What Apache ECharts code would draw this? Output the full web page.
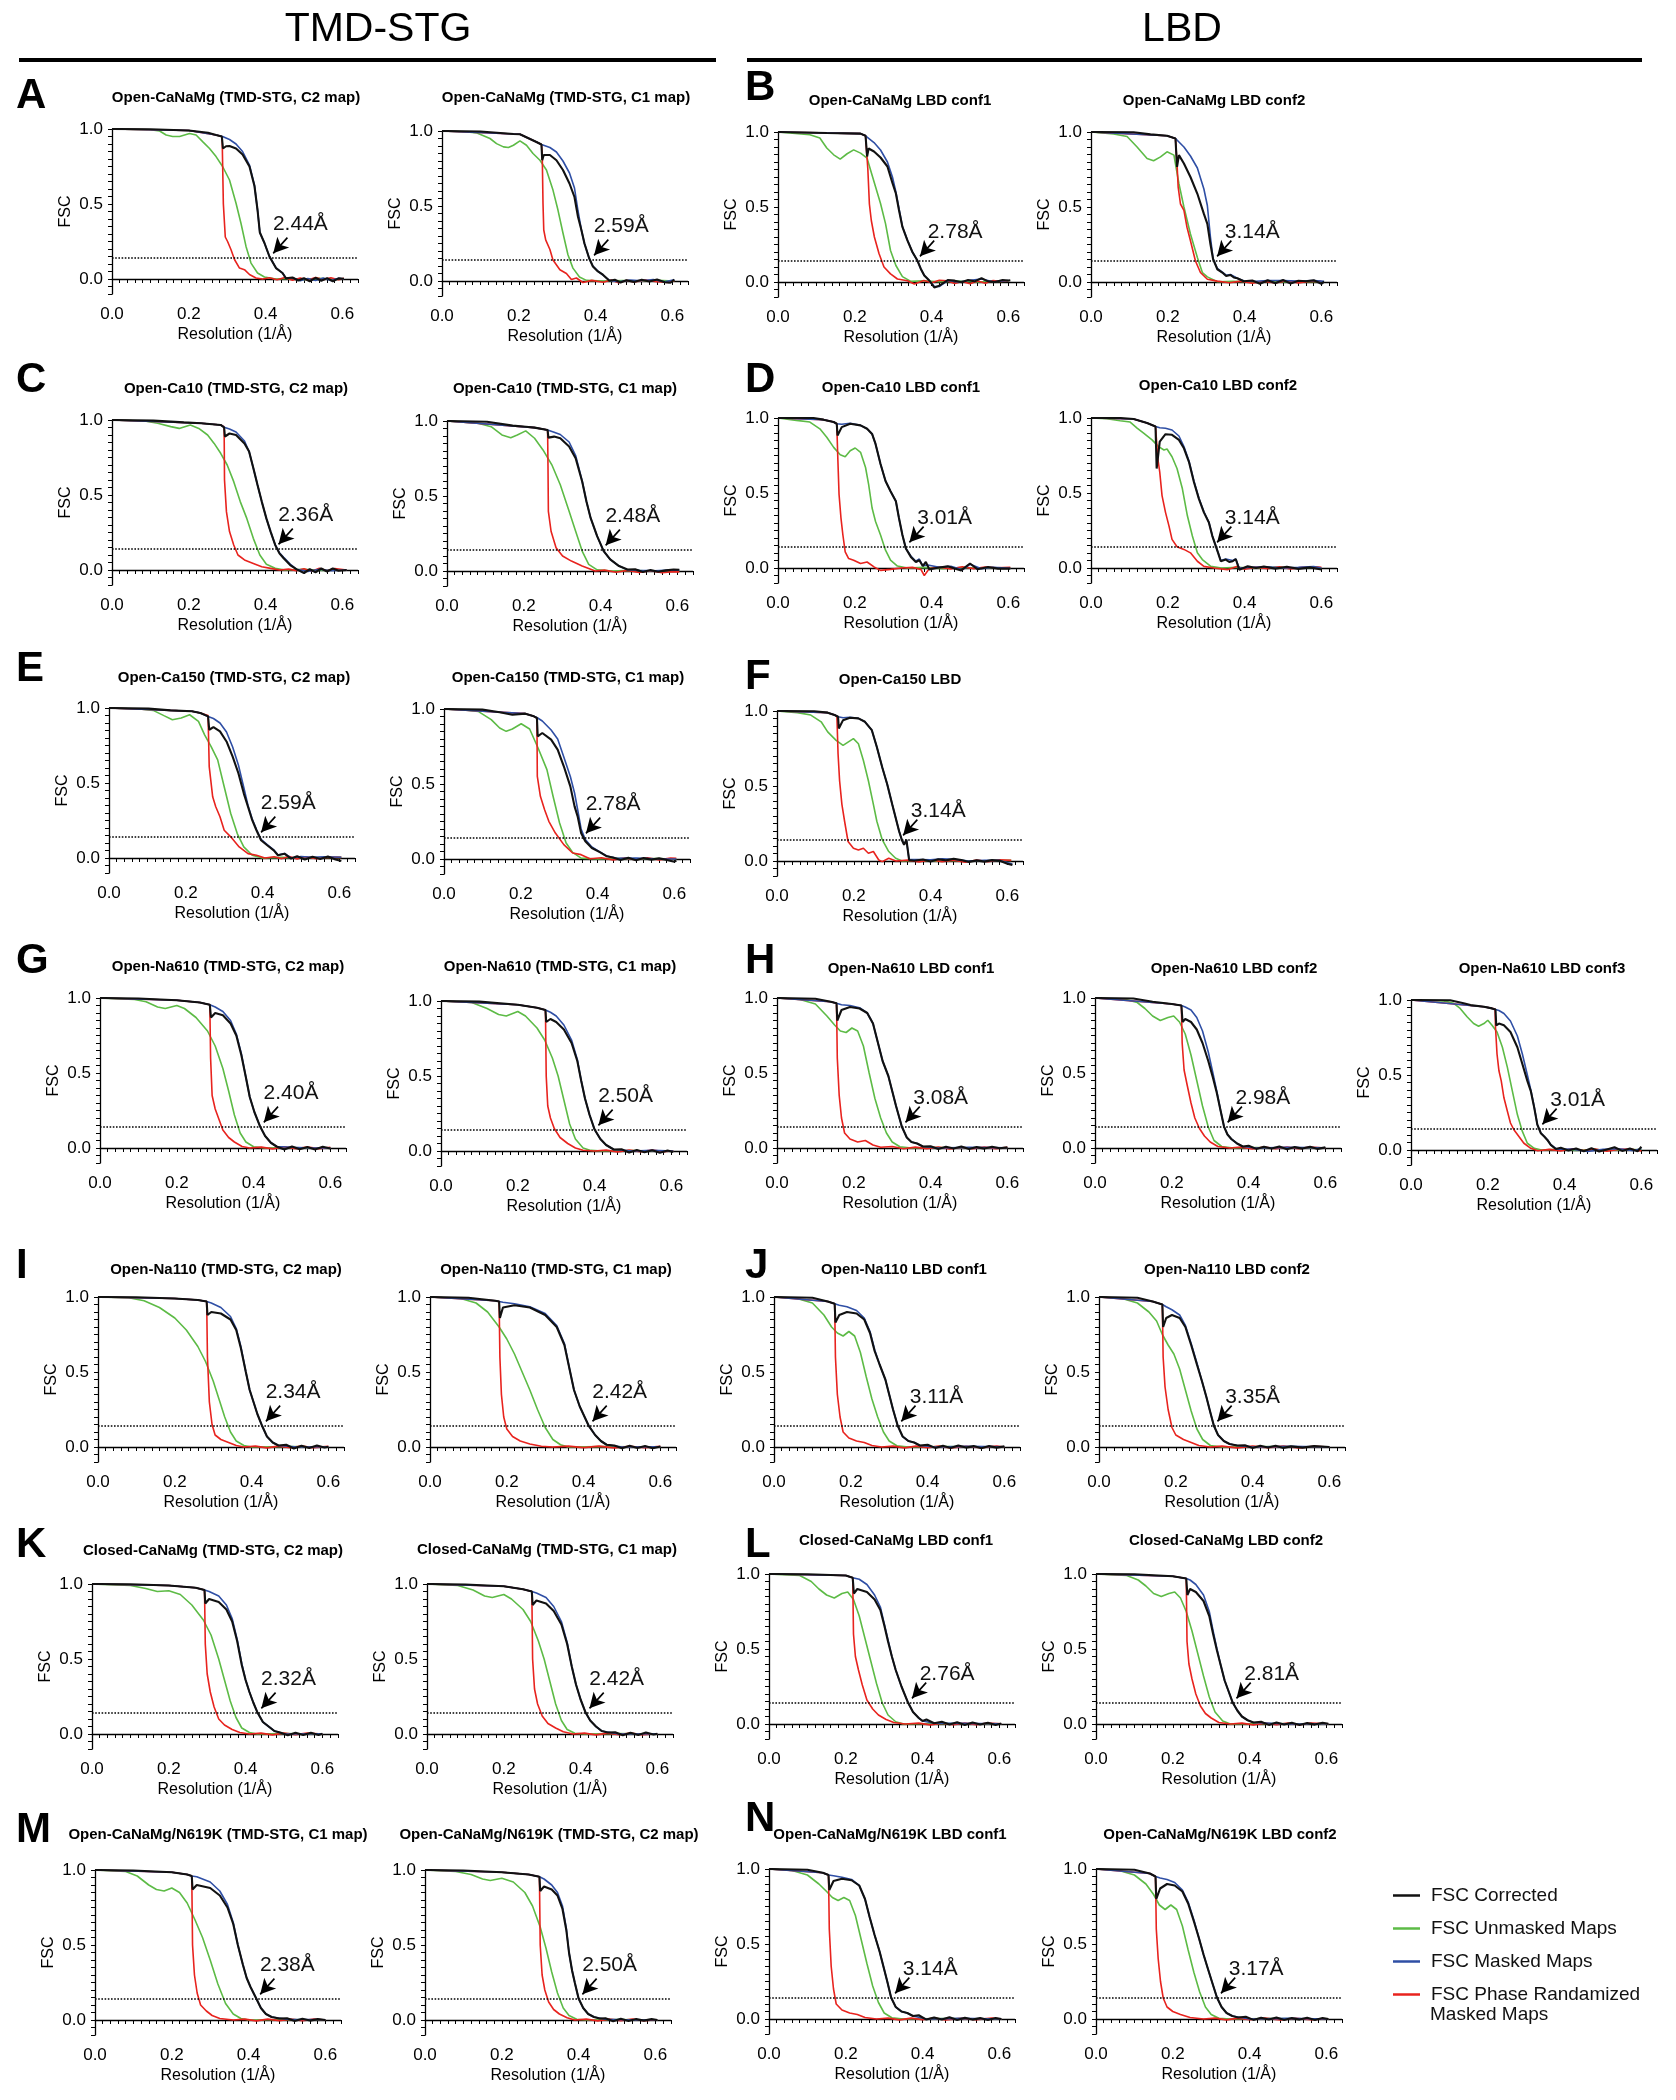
<!DOCTYPE html>
<html><head><meta charset="utf-8">
<script src="https://cdn.jsdelivr.net/npm/echarts@6/dist/echarts.min.js"></script>
<style>html,body{margin:0;padding:0;background:#fff}#c{width:1676px;height:2100px}</style>
</head><body><div id="c"></div>
<script>
// ---------------- DATA ----------------
const panelIds = ['A1','A2','B1','B2','C1','C2','D1','D2','E1','E2','F1','G1','G2','H1','H2','H3','I1','I2','J1','J2','K1','K2','L1','L2','M1','M2','N1','N2'];
const titles = {A1:'Open-CaNaMg (TMD-STG, C2 map)',A2:'Open-CaNaMg (TMD-STG, C1 map)',B1:'Open-CaNaMg LBD conf1',B2:'Open-CaNaMg LBD conf2',
C1:'Open-Ca10 (TMD-STG, C2 map)',C2:'Open-Ca10 (TMD-STG, C1 map)',D1:'Open-Ca10 LBD conf1',D2:'Open-Ca10 LBD conf2',
E1:'Open-Ca150 (TMD-STG, C2 map)',E2:'Open-Ca150 (TMD-STG, C1 map)',F1:'Open-Ca150 LBD',
G1:'Open-Na610 (TMD-STG, C2 map)',G2:'Open-Na610 (TMD-STG, C1 map)',H1:'Open-Na610 LBD conf1',H2:'Open-Na610 LBD conf2',H3:'Open-Na610 LBD conf3',
I1:'Open-Na110 (TMD-STG, C2 map)',I2:'Open-Na110 (TMD-STG, C1 map)',J1:'Open-Na110 LBD conf1',J2:'Open-Na110 LBD conf2',
K1:'Closed-CaNaMg (TMD-STG, C2 map)',K2:'Closed-CaNaMg (TMD-STG, C1 map)',L1:'Closed-CaNaMg LBD conf1',L2:'Closed-CaNaMg LBD conf2',
M1:'Open-CaNaMg/N619K (TMD-STG, C1 map)',M2:'Open-CaNaMg/N619K (TMD-STG, C2 map)',N1:'Open-CaNaMg/N619K LBD conf1',N2:'Open-CaNaMg/N619K LBD conf2'};
const resolutions = {A1:'2.44',A2:'2.59',B1:'2.78',B2:'3.14',C1:'2.36',C2:'2.48',D1:'3.01',D2:'3.14',E1:'2.59',E2:'2.78',F1:'3.14',
G1:'2.40',G2:'2.50',H1:'3.08',H2:'2.98',H3:'3.01',I1:'2.34',I2:'2.42',J1:'3.11',J2:'3.35',K1:'2.32',K2:'2.42',L1:'2.76',L2:'2.81',M1:'2.38',M2:'2.50',N1:'3.14',N2:'3.17'};
const sectionHeaders = ['TMD-STG','LBD'];
const panelLetters = ['A','B','C','D','E','F','G','H','I','J','K','L','M','N'];
const seriesNames = ['FSC Corrected','FSC Unmasked Maps','FSC Masked Maps','FSC Phase Randamized'];
const FSC_THRESHOLD = 0.143;

// k = FSC corrected (black), g = unmasked (green), b = masked (blue), r = phase randomized (red)
const A1k=[[0,1],[0.1,0.998],[0.2,0.99],[0.25,0.975],[0.271,0.96],[0.286,0.95],[0.289,0.87],[0.292,0.86],[0.297,0.885],[0.306,0.887],[0.323,0.87],[0.34,0.83],[0.358,0.75],[0.371,0.62],[0.379,0.46],[0.385,0.31],[0.397,0.24],[0.41,0.15],[0.427,0.073],[0.444,0.04],[0.453,0.005],[0.47,0.01],[0.485,-0.01],[0.5,0.005],[0.515,-0.015],[0.53,0.008],[0.545,-0.012],[0.56,0.006],[0.575,-0.015],[0.59,0.004],[0.604,0.002]];
const A1b=[[0,1],[0.2,0.99],[0.271,0.96],[0.288,0.95],[0.306,0.93],[0.323,0.9],[0.34,0.85],[0.358,0.76],[0.371,0.625],[0.379,0.46],[0.385,0.31],[0.397,0.24],[0.41,0.15],[0.427,0.075],[0.444,0.04],[0.453,0.005],[0.47,0.008],[0.49,-0.012],[0.51,0.004],[0.53,-0.01],[0.55,0.006],[0.57,-0.01],[0.59,0.005],[0.604,0]];
const A1r=[[0,1],[0.2,0.99],[0.271,0.96],[0.286,0.95],[0.287,0.92],[0.29,0.5],[0.295,0.28],[0.301,0.25],[0.31,0.195],[0.319,0.13],[0.332,0.073],[0.345,0.062],[0.358,0.03],[0.375,0.007],[0.392,0],[0.41,0.008],[0.43,-0.005],[0.45,0.01],[0.47,-0.008],[0.49,0.006],[0.51,-0.006],[0.53,0.01],[0.55,-0.004],[0.57,0.008],[0.59,-0.005],[0.604,0.004]];
const A1g=[[0,1],[0.1,0.995],[0.124,0.987],[0.141,0.96],[0.158,0.95],[0.176,0.95],[0.202,0.97],[0.219,0.96],[0.236,0.916],[0.254,0.87],[0.271,0.816],[0.288,0.75],[0.306,0.66],[0.323,0.505],[0.336,0.37],[0.349,0.217],[0.362,0.106],[0.379,0.04],[0.397,0.013],[0.427,0],[0.46,0.003],[0.5,-0.004],[0.54,0.004],[0.58,-0.003],[0.604,0]];

const A2k=[[0,1],[0.1,0.997],[0.186,0.98],[0.203,0.978],[0.246,0.927],[0.259,0.91],[0.261,0.805],[0.265,0.84],[0.268,0.85],[0.281,0.84],[0.298,0.805],[0.315,0.74],[0.332,0.65],[0.345,0.56],[0.354,0.43],[0.363,0.34],[0.371,0.25],[0.383,0.153],[0.393,0.097],[0.406,0.064],[0.419,0.042],[0.436,0.002],[0.45,0.008],[0.465,-0.01],[0.48,0.005],[0.5,-0.006],[0.52,0.008],[0.54,-0.004],[0.56,0.01],[0.58,-0.008],[0.595,-0.012],[0.605,0.01]];
const A2b=[[0,1],[0.203,0.978],[0.246,0.927],[0.259,0.91],[0.281,0.89],[0.298,0.86],[0.315,0.8],[0.332,0.72],[0.345,0.62],[0.354,0.47],[0.363,0.34],[0.371,0.25],[0.383,0.153],[0.393,0.1],[0.406,0.066],[0.419,0.04],[0.436,0.004],[0.46,-0.005],[0.49,0.006],[0.52,0.002],[0.55,0.01],[0.58,-0.006],[0.605,0.008]];
const A2r=[[0,1],[0.203,0.978],[0.246,0.927],[0.259,0.91],[0.261,0.85],[0.263,0.518],[0.265,0.34],[0.27,0.274],[0.274,0.274],[0.281,0.21],[0.289,0.14],[0.307,0.075],[0.324,0.05],[0.337,0.01],[0.35,0.02],[0.367,-0.01],[0.39,0.004],[0.42,-0.008],[0.44,0.006],[0.46,-0.012],[0.48,0.004],[0.5,-0.006],[0.53,0.006],[0.56,-0.004],[0.59,-0.01],[0.605,0.004]];
const A2g=[[0,1],[0.06,0.995],[0.091,0.987],[0.125,0.95],[0.142,0.916],[0.16,0.894],[0.173,0.89],[0.186,0.905],[0.203,0.934],[0.22,0.905],[0.237,0.85],[0.255,0.805],[0.272,0.74],[0.289,0.606],[0.302,0.473],[0.315,0.32],[0.328,0.175],[0.341,0.086],[0.358,0.027],[0.376,0.004],[0.42,0],[0.47,0.003],[0.52,-0.002],[0.56,0.004],[0.605,0]];

const B1k=[[0,1],[0.127,0.993],[0.215,0.989],[0.228,0.975],[0.232,0.837],[0.236,0.89],[0.25,0.87],[0.267,0.83],[0.285,0.77],[0.298,0.66],[0.307,0.59],[0.315,0.48],[0.324,0.367],[0.337,0.277],[0.35,0.2],[0.363,0.143],[0.372,0.087],[0.381,0.043],[0.394,0.01],[0.407,-0.036],[0.42,-0.025],[0.442,0.013],[0.46,0.009],[0.478,-0.002],[0.495,0.013],[0.512,0.004],[0.53,0.025],[0.547,0.004],[0.565,0],[0.585,0.013],[0.6,0.01],[0.605,0.012]];
const B1b=[[0,1],[0.215,0.989],[0.228,0.975],[0.25,0.93],[0.267,0.88],[0.285,0.8],[0.298,0.7],[0.307,0.6],[0.315,0.49],[0.324,0.37],[0.337,0.28],[0.35,0.2],[0.363,0.143],[0.372,0.087],[0.381,0.043],[0.394,0.01],[0.407,-0.03],[0.42,-0.03],[0.442,0.01],[0.47,0],[0.5,0.012],[0.53,0.02],[0.56,0.002],[0.6,0.01]];
const B1r=[[0,1],[0.215,0.989],[0.228,0.975],[0.234,0.75],[0.238,0.52],[0.243,0.41],[0.251,0.3],[0.263,0.19],[0.276,0.1],[0.293,0.054],[0.311,0.02],[0.337,0.008],[0.355,-0.013],[0.38,0.01],[0.4,-0.005],[0.42,0.012],[0.44,0.008],[0.46,-0.01],[0.48,0.004],[0.5,-0.012],[0.52,0.006],[0.54,-0.008],[0.56,0.01],[0.58,0.004],[0.6,0.008]];
const B1g=[[0,1],[0.083,0.982],[0.109,0.96],[0.127,0.893],[0.145,0.848],[0.162,0.819],[0.18,0.855],[0.197,0.881],[0.215,0.859],[0.232,0.826],[0.241,0.747],[0.254,0.635],[0.267,0.523],[0.28,0.389],[0.293,0.21],[0.307,0.11],[0.324,0.036],[0.346,0.004],[0.38,0.008],[0.42,0.002],[0.47,0.006],[0.52,0],[0.56,0.004],[0.6,0.006]];

const B2k=[[0,1],[0.111,0.998],[0.155,0.984],[0.198,0.975],[0.22,0.957],[0.224,0.767],[0.229,0.846],[0.242,0.79],[0.259,0.7],[0.277,0.588],[0.294,0.454],[0.303,0.387],[0.311,0.253],[0.318,0.152],[0.329,0.085],[0.342,0.063],[0.352,0.04],[0.363,0.047],[0.372,0.03],[0.381,0.025],[0.398,0.005],[0.42,0.01],[0.44,-0.012],[0.46,0.012],[0.48,-0.008],[0.5,0.013],[0.52,-0.01],[0.54,0.008],[0.56,0.005],[0.58,0.012],[0.6,-0.012],[0.607,0.002]];
const B2b=[[0,1],[0.198,0.975],[0.22,0.957],[0.242,0.9],[0.259,0.84],[0.277,0.76],[0.294,0.62],[0.303,0.51],[0.311,0.3],[0.318,0.155],[0.329,0.09],[0.342,0.065],[0.352,0.045],[0.363,0.05],[0.381,0.025],[0.4,0.005],[0.43,0.005],[0.46,0.01],[0.5,0.01],[0.54,0.006],[0.58,0.01],[0.607,0.004]];
const B2r=[[0,1],[0.198,0.975],[0.22,0.957],[0.224,0.79],[0.227,0.633],[0.233,0.52],[0.242,0.477],[0.25,0.365],[0.259,0.275],[0.272,0.14],[0.285,0.063],[0.303,0.018],[0.329,0.006],[0.36,-0.005],[0.39,0.006],[0.42,-0.008],[0.45,0.005],[0.48,-0.006],[0.51,0.008],[0.54,-0.006],[0.57,0.006],[0.6,0.004]];
const B2g=[[0,1],[0.059,0.987],[0.094,0.97],[0.12,0.9],[0.146,0.823],[0.163,0.808],[0.181,0.834],[0.198,0.868],[0.216,0.846],[0.229,0.655],[0.242,0.5],[0.259,0.32],[0.277,0.163],[0.29,0.063],[0.303,0.034],[0.329,0.002],[0.37,0.005],[0.42,0],[0.47,0.005],[0.52,-0.002],[0.56,0.004],[0.6,0]];

const C1k=[[0,1],[0.108,0.996],[0.187,0.984],[0.232,0.978],[0.283,0.967],[0.292,0.95],[0.294,0.89],[0.306,0.91],[0.323,0.9],[0.345,0.844],[0.357,0.79],[0.368,0.68],[0.379,0.567],[0.39,0.456],[0.402,0.344],[0.413,0.256],[0.425,0.167],[0.436,0.111],[0.447,0.078],[0.464,0.033],[0.481,0.004],[0.5,-0.02],[0.515,0.005],[0.53,-0.015],[0.545,0.01],[0.56,-0.01],[0.575,0.01],[0.59,-0.005],[0.611,0]];
const C1b=[[0,1],[0.232,0.978],[0.283,0.967],[0.294,0.95],[0.306,0.94],[0.323,0.92],[0.345,0.86],[0.357,0.79],[0.368,0.68],[0.379,0.567],[0.39,0.456],[0.402,0.344],[0.413,0.256],[0.425,0.167],[0.436,0.115],[0.447,0.085],[0.464,0.04],[0.481,0.004],[0.51,-0.01],[0.54,0.005],[0.57,-0.005],[0.611,0]];
const C1r=[[0,1],[0.232,0.978],[0.283,0.967],[0.292,0.955],[0.293,0.6],[0.298,0.389],[0.306,0.256],[0.317,0.167],[0.328,0.1],[0.345,0.067],[0.368,0.044],[0.39,0.022],[0.413,0.011],[0.436,0],[0.46,0.006],[0.48,-0.004],[0.5,0.008],[0.52,-0.008],[0.54,0.012],[0.56,-0.005],[0.58,0.01],[0.611,0]];
const C1g=[[0,1],[0.085,0.993],[0.119,0.978],[0.153,0.956],[0.175,0.944],[0.204,0.967],[0.226,0.944],[0.249,0.9],[0.266,0.844],[0.283,0.778],[0.3,0.7],[0.317,0.589],[0.334,0.456],[0.351,0.344],[0.368,0.211],[0.385,0.1],[0.402,0.038],[0.425,0.011],[0.45,0],[0.5,0.004],[0.55,-0.003],[0.611,0.002]];

const C2k=[[0,1],[0.104,0.995],[0.171,0.969],[0.205,0.962],[0.228,0.956],[0.262,0.94],[0.264,0.889],[0.279,0.896],[0.295,0.885],[0.318,0.83],[0.335,0.752],[0.352,0.597],[0.363,0.465],[0.374,0.354],[0.391,0.232],[0.408,0.133],[0.425,0.077],[0.448,0.033],[0.47,0.01],[0.49,0.012],[0.51,-0.006],[0.53,0.006],[0.55,-0.005],[0.57,0.004],[0.59,0.01],[0.605,0.008]];
const C2b=[[0,1],[0.228,0.956],[0.262,0.94],[0.279,0.925],[0.295,0.91],[0.318,0.86],[0.335,0.77],[0.352,0.6],[0.363,0.465],[0.374,0.354],[0.391,0.232],[0.408,0.133],[0.425,0.077],[0.448,0.033],[0.47,0.008],[0.5,0.004],[0.54,0.002],[0.58,0.006],[0.605,0.006]];
const C2r=[[0,1],[0.228,0.956],[0.262,0.94],[0.263,0.7],[0.264,0.398],[0.271,0.265],[0.284,0.155],[0.301,0.1],[0.324,0.066],[0.352,0.033],[0.386,0],[0.41,0.006],[0.44,-0.008],[0.47,0.004],[0.5,-0.01],[0.53,0.002],[0.56,-0.012],[0.59,-0.004],[0.605,-0.006]];
const C2g=[[0,1],[0.081,0.985],[0.115,0.962],[0.143,0.907],[0.166,0.889],[0.183,0.907],[0.205,0.934],[0.228,0.885],[0.25,0.807],[0.273,0.708],[0.295,0.575],[0.318,0.398],[0.335,0.265],[0.352,0.133],[0.369,0.044],[0.391,0.008],[0.43,0],[0.48,0.004],[0.53,0],[0.58,0.003],[0.605,0]];

const D1k=[[0,1],[0.092,1],[0.118,0.989],[0.145,0.973],[0.153,0.962],[0.155,0.883],[0.166,0.939],[0.188,0.962],[0.215,0.951],[0.232,0.928],[0.245,0.894],[0.254,0.827],[0.267,0.693],[0.28,0.58],[0.293,0.512],[0.307,0.445],[0.315,0.333],[0.324,0.22],[0.333,0.13],[0.346,0.074],[0.359,0.04],[0.368,0.052],[0.377,0.013],[0.385,0.04],[0.394,-0.009],[0.416,0.002],[0.442,0.011],[0.46,-0.004],[0.477,-0.016],[0.5,0.03],[0.52,-0.009],[0.547,0.007],[0.573,-0.004],[0.605,-0.004]];
const D1b=[[0,1],[0.118,0.989],[0.145,0.973],[0.153,0.962],[0.166,0.958],[0.188,0.965],[0.215,0.951],[0.232,0.928],[0.245,0.894],[0.254,0.827],[0.267,0.693],[0.28,0.58],[0.293,0.512],[0.307,0.445],[0.315,0.333],[0.324,0.22],[0.333,0.13],[0.346,0.08],[0.359,0.045],[0.368,0.06],[0.377,0.015],[0.39,0.02],[0.42,0.005],[0.45,0.012],[0.48,-0.012],[0.5,0.025],[0.53,-0.005],[0.56,0.005],[0.605,-0.002]];
const D1r=[[0,1],[0.118,0.989],[0.145,0.973],[0.153,0.962],[0.156,0.715],[0.159,0.49],[0.164,0.333],[0.169,0.22],[0.175,0.108],[0.184,0.063],[0.197,0.052],[0.215,0.03],[0.232,0.04],[0.25,0.007],[0.267,-0.016],[0.293,-0.009],[0.32,0],[0.35,0.004],[0.372,-0.009],[0.381,-0.05],[0.394,-0.004],[0.42,0.006],[0.45,-0.006],[0.48,0.008],[0.51,-0.004],[0.54,0.006],[0.57,0.002],[0.605,0.004]];
const D1g=[[0,1],[0.048,0.984],[0.083,0.973],[0.109,0.928],[0.127,0.872],[0.145,0.804],[0.162,0.755],[0.175,0.742],[0.188,0.782],[0.201,0.8],[0.215,0.771],[0.228,0.67],[0.236,0.557],[0.245,0.4],[0.254,0.31],[0.267,0.22],[0.28,0.119],[0.293,0.052],[0.311,0.013],[0.337,0],[0.38,0.004],[0.43,-0.004],[0.48,0.003],[0.53,-0.002],[0.58,0.002],[0.605,0]];

const D2k=[[0,1],[0.076,1],[0.111,0.993],[0.146,0.966],[0.168,0.944],[0.171,0.663],[0.179,0.843],[0.194,0.892],[0.211,0.888],[0.229,0.854],[0.242,0.798],[0.255,0.708],[0.268,0.573],[0.281,0.461],[0.294,0.371],[0.307,0.303],[0.316,0.213],[0.325,0.146],[0.331,0.101],[0.338,0.045],[0.351,0.056],[0.36,0.04],[0.369,0.045],[0.377,0.06],[0.386,-0.011],[0.408,0.011],[0.43,0],[0.45,0.01],[0.48,-0.004],[0.51,0.008],[0.54,-0.006],[0.57,0.004],[0.6,-0.01]];
const D2b=[[0,1],[0.111,0.993],[0.146,0.966],[0.168,0.944],[0.179,0.935],[0.194,0.932],[0.211,0.92],[0.229,0.88],[0.242,0.81],[0.255,0.715],[0.268,0.58],[0.281,0.465],[0.294,0.375],[0.307,0.305],[0.316,0.215],[0.325,0.146],[0.331,0.101],[0.338,0.05],[0.351,0.06],[0.369,0.05],[0.377,0.06],[0.386,0],[0.42,0.005],[0.46,0.008],[0.5,0],[0.54,0.004],[0.58,0.01],[0.6,0]];
const D2r=[[0,1],[0.111,0.993],[0.146,0.966],[0.168,0.944],[0.174,0.73],[0.179,0.64],[0.185,0.483],[0.194,0.371],[0.203,0.281],[0.211,0.191],[0.224,0.142],[0.242,0.124],[0.259,0.101],[0.277,0.045],[0.294,0.011],[0.32,0],[0.355,-0.011],[0.38,0.01],[0.4,-0.008],[0.43,0.006],[0.46,-0.004],[0.49,0.008],[0.52,-0.006],[0.55,0.004],[0.58,0.008],[0.6,0.004]];
const D2g=[[0,1],[0.041,0.996],[0.076,0.982],[0.102,0.973],[0.12,0.933],[0.137,0.899],[0.159,0.854],[0.176,0.809],[0.19,0.787],[0.198,0.793],[0.211,0.742],[0.224,0.663],[0.238,0.528],[0.251,0.348],[0.264,0.213],[0.277,0.101],[0.29,0.056],[0.312,0.011],[0.34,0],[0.38,0.005],[0.43,-0.002],[0.48,0.004],[0.53,0],[0.58,0.004],[0.6,0.002]];

const E1k=[[0,1],[0.103,0.996],[0.16,0.984],[0.216,0.978],[0.238,0.967],[0.258,0.944],[0.261,0.855],[0.272,0.873],[0.289,0.844],[0.306,0.777],[0.322,0.676],[0.337,0.565],[0.351,0.431],[0.362,0.342],[0.373,0.252],[0.384,0.185],[0.396,0.118],[0.412,0.085],[0.429,0.051],[0.44,0.018],[0.457,0.029],[0.474,-0.004],[0.49,0.012],[0.51,-0.01],[0.53,0.008],[0.55,-0.006],[0.57,0.01],[0.59,-0.01],[0.605,-0.02]];
const E1b=[[0,1],[0.216,0.978],[0.238,0.967],[0.258,0.944],[0.272,0.93],[0.289,0.9],[0.306,0.84],[0.322,0.74],[0.337,0.62],[0.351,0.47],[0.362,0.35],[0.373,0.26],[0.384,0.19],[0.396,0.125],[0.412,0.09],[0.429,0.055],[0.44,0.02],[0.457,0.03],[0.474,0],[0.5,0.01],[0.53,0.005],[0.56,0.008],[0.605,0.005]];
const E1r=[[0,1],[0.216,0.978],[0.238,0.967],[0.258,0.95],[0.261,0.609],[0.27,0.408],[0.278,0.342],[0.289,0.275],[0.3,0.185],[0.317,0.141],[0.339,0.074],[0.362,0.029],[0.384,0.018],[0.406,0],[0.43,0.008],[0.45,-0.004],[0.47,0.01],[0.49,-0.006],[0.51,0.008],[0.54,-0.004],[0.57,0.006],[0.605,0.004]];
const E1g=[[0,1],[0.081,0.993],[0.115,0.984],[0.143,0.949],[0.165,0.922],[0.188,0.933],[0.21,0.955],[0.233,0.911],[0.249,0.821],[0.266,0.743],[0.283,0.654],[0.3,0.475],[0.317,0.297],[0.334,0.163],[0.351,0.074],[0.373,0.018],[0.4,0],[0.45,0.004],[0.5,-0.002],[0.55,0.003],[0.605,0.004]];

const E2k=[[0,1],[0.1,0.996],[0.145,0.978],[0.178,0.962],[0.212,0.969],[0.234,0.951],[0.242,0.94],[0.244,0.818],[0.256,0.84],[0.279,0.796],[0.296,0.729],[0.312,0.618],[0.329,0.484],[0.34,0.351],[0.348,0.284],[0.357,0.173],[0.368,0.118],[0.385,0.073],[0.407,0.044],[0.424,0.018],[0.44,0.01],[0.46,-0.006],[0.48,0.008],[0.5,-0.008],[0.52,0.006],[0.54,-0.004],[0.56,0.004],[0.58,-0.006],[0.6,-0.018],[0.605,-0.01]];
const E2b=[[0,1],[0.212,0.969],[0.234,0.951],[0.244,0.94],[0.256,0.92],[0.279,0.86],[0.296,0.8],[0.312,0.68],[0.329,0.55],[0.34,0.44],[0.348,0.33],[0.357,0.2],[0.368,0.13],[0.385,0.08],[0.407,0.045],[0.424,0.02],[0.45,0.004],[0.5,0.006],[0.55,0.002],[0.605,0]];
const E2r=[[0,1],[0.212,0.969],[0.234,0.951],[0.242,0.94],[0.243,0.551],[0.251,0.418],[0.262,0.329],[0.273,0.251],[0.29,0.173],[0.312,0.096],[0.335,0.04],[0.357,0.029],[0.38,0.002],[0.41,0.008],[0.44,-0.006],[0.47,0.006],[0.5,-0.004],[0.53,0.008],[0.56,-0.006],[0.59,0.006],[0.605,0.004]];
const E2g=[[0,1],[0.06,0.992],[0.089,0.984],[0.123,0.929],[0.145,0.873],[0.162,0.851],[0.178,0.867],[0.201,0.902],[0.223,0.867],[0.245,0.74],[0.268,0.596],[0.284,0.418],[0.301,0.24],[0.318,0.107],[0.335,0.044],[0.357,0.006],[0.4,0],[0.45,0.004],[0.5,-0.002],[0.55,0.003],[0.605,0]];

const F1k=[[0,1],[0.097,0.998],[0.132,0.989],[0.15,0.973],[0.159,0.962],[0.161,0.883],[0.172,0.939],[0.19,0.955],[0.212,0.951],[0.229,0.928],[0.247,0.872],[0.26,0.76],[0.274,0.625],[0.287,0.512],[0.3,0.378],[0.309,0.288],[0.318,0.198],[0.325,0.142],[0.331,0.108],[0.337,0.142],[0.344,0.007],[0.357,0.002],[0.38,0.01],[0.4,-0.004],[0.42,0.012],[0.44,0.004],[0.46,0.015],[0.48,0.006],[0.5,-0.006],[0.52,0.004],[0.54,-0.004],[0.56,0.006],[0.58,0.002],[0.6,-0.018],[0.613,-0.027]];
const F1b=[[0,1],[0.132,0.989],[0.15,0.973],[0.159,0.962],[0.172,0.955],[0.19,0.958],[0.212,0.951],[0.229,0.928],[0.247,0.872],[0.26,0.76],[0.274,0.625],[0.287,0.512],[0.3,0.378],[0.309,0.288],[0.318,0.198],[0.325,0.142],[0.331,0.11],[0.337,0.14],[0.344,0.01],[0.37,0.01],[0.4,0.008],[0.43,0.015],[0.46,0.012],[0.5,0],[0.54,0.004],[0.58,0.004],[0.613,-0.02]];
const F1r=[[0,1],[0.132,0.989],[0.15,0.973],[0.156,0.965],[0.159,0.715],[0.163,0.535],[0.169,0.378],[0.176,0.265],[0.185,0.13],[0.199,0.085],[0.212,0.074],[0.225,0.085],[0.238,0.052],[0.251,0.063],[0.265,0.007],[0.274,-0.004],[0.291,0.018],[0.31,0],[0.34,0.006],[0.37,-0.006],[0.4,0.008],[0.43,-0.004],[0.46,0.006],[0.49,-0.008],[0.52,0.006],[0.55,-0.004],[0.58,0.008],[0.61,0.004]];
const F1g=[[0,1],[0.053,0.989],[0.088,0.973],[0.115,0.928],[0.132,0.861],[0.154,0.804],[0.172,0.771],[0.185,0.793],[0.199,0.816],[0.212,0.782],[0.225,0.67],[0.238,0.535],[0.251,0.378],[0.26,0.265],[0.274,0.142],[0.291,0.063],[0.309,0.018],[0.326,0],[0.37,0.004],[0.42,-0.002],[0.47,0.003],[0.52,0],[0.57,0.003],[0.61,0.004]];

const G1k=[[0,1],[0.1,0.997],[0.2,0.985],[0.26,0.97],[0.286,0.955],[0.289,0.87],[0.3,0.9],[0.32,0.885],[0.34,0.83],[0.355,0.75],[0.368,0.62],[0.38,0.47],[0.39,0.34],[0.402,0.24],[0.417,0.143],[0.43,0.08],[0.445,0.035],[0.46,0.01],[0.48,-0.01],[0.5,0.01],[0.52,-0.008],[0.54,0.006],[0.56,-0.01],[0.58,0.008],[0.6,-0.004]];
const G1b=[[0,1],[0.2,0.985],[0.26,0.97],[0.286,0.955],[0.3,0.94],[0.32,0.91],[0.34,0.85],[0.355,0.76],[0.368,0.63],[0.38,0.47],[0.39,0.34],[0.402,0.24],[0.417,0.143],[0.43,0.08],[0.445,0.035],[0.46,0.01],[0.5,0.005],[0.55,0],[0.6,0]];
const G1r=[[0,1],[0.2,0.985],[0.26,0.97],[0.286,0.955],[0.288,0.6],[0.292,0.35],[0.3,0.26],[0.31,0.19],[0.32,0.12],[0.335,0.07],[0.35,0.04],[0.37,0.01],[0.39,0],[0.42,0.006],[0.45,-0.006],[0.48,0.008],[0.51,-0.004],[0.54,0.006],[0.57,-0.004],[0.6,0.004]];
const G1g=[[0,1],[0.09,0.99],[0.12,0.975],[0.15,0.94],[0.17,0.93],[0.2,0.95],[0.22,0.93],[0.25,0.87],[0.28,0.78],[0.3,0.68],[0.32,0.53],[0.335,0.38],[0.35,0.22],[0.365,0.1],[0.38,0.04],[0.4,0.008],[0.43,0],[0.5,0.003],[0.55,-0.002],[0.6,0.002]];

const G2k=[[0,1],[0.1,0.996],[0.2,0.975],[0.25,0.955],[0.272,0.94],[0.274,0.86],[0.285,0.88],[0.3,0.86],[0.32,0.81],[0.34,0.72],[0.355,0.6],[0.365,0.47],[0.375,0.35],[0.387,0.24],[0.4,0.143],[0.415,0.08],[0.43,0.04],[0.45,0.01],[0.47,0.012],[0.49,-0.01],[0.51,0.006],[0.53,-0.008],[0.55,0.005],[0.57,-0.012],[0.59,0.004],[0.605,-0.006]];
const G2b=[[0,1],[0.2,0.975],[0.25,0.955],[0.272,0.94],[0.285,0.925],[0.3,0.9],[0.32,0.84],[0.34,0.74],[0.355,0.61],[0.365,0.47],[0.375,0.35],[0.387,0.24],[0.4,0.143],[0.415,0.08],[0.43,0.04],[0.45,0.01],[0.5,0],[0.55,0.004],[0.605,0]];
const G2r=[[0,1],[0.2,0.975],[0.25,0.955],[0.272,0.94],[0.274,0.5],[0.278,0.3],[0.285,0.22],[0.295,0.15],[0.31,0.09],[0.33,0.05],[0.35,0.02],[0.37,0.005],[0.4,0],[0.43,0.006],[0.46,-0.006],[0.49,0.006],[0.52,-0.004],[0.55,0.006],[0.58,-0.004],[0.605,0.002]];
const G2g=[[0,1],[0.08,0.99],[0.12,0.95],[0.15,0.91],[0.17,0.9],[0.2,0.93],[0.22,0.9],[0.25,0.82],[0.27,0.74],[0.29,0.62],[0.305,0.5],[0.32,0.34],[0.335,0.18],[0.35,0.08],[0.37,0.02],[0.39,0.004],[0.42,0],[0.5,0.003],[0.55,-0.002],[0.605,0]];

const H1k=[[0,1],[0.1,0.995],[0.14,0.975],[0.155,0.965],[0.157,0.85],[0.168,0.92],[0.19,0.94],[0.215,0.93],[0.235,0.9],[0.25,0.83],[0.263,0.7],[0.275,0.58],[0.29,0.48],[0.3,0.38],[0.31,0.28],[0.325,0.143],[0.338,0.07],[0.35,0.04],[0.365,0.03],[0.38,0.01],[0.4,0.012],[0.42,-0.006],[0.44,0.008],[0.46,-0.004],[0.48,0.01],[0.5,-0.006],[0.52,0.006],[0.54,-0.004],[0.56,0.008],[0.58,-0.002],[0.6,0.004]];
const H1b=[[0,1],[0.14,0.975],[0.155,0.965],[0.168,0.955],[0.19,0.95],[0.215,0.935],[0.235,0.9],[0.25,0.83],[0.263,0.7],[0.275,0.58],[0.29,0.48],[0.3,0.38],[0.31,0.28],[0.325,0.143],[0.338,0.07],[0.35,0.04],[0.365,0.03],[0.38,0.01],[0.42,0],[0.5,0.004],[0.6,0.002]];
const H1r=[[0,1],[0.14,0.975],[0.155,0.965],[0.157,0.6],[0.162,0.35],[0.168,0.2],[0.176,0.1],[0.19,0.06],[0.21,0.04],[0.23,0.05],[0.25,0.02],[0.27,0.005],[0.3,0.01],[0.33,-0.005],[0.36,0.006],[0.39,-0.004],[0.42,0.006],[0.45,-0.006],[0.48,0.004],[0.51,-0.004],[0.54,0.006],[0.57,-0.004],[0.6,0.004]];
const H1g=[[0,1],[0.06,0.99],[0.1,0.96],[0.13,0.88],[0.15,0.82],[0.165,0.78],[0.18,0.77],[0.195,0.8],[0.21,0.78],[0.225,0.68],[0.24,0.5],[0.255,0.33],[0.27,0.2],[0.285,0.1],[0.3,0.04],[0.32,0.008],[0.35,0],[0.42,0.003],[0.5,-0.002],[0.6,0.002]];

const H2k=[[0,1],[0.1,0.997],[0.15,0.975],[0.2,0.96],[0.225,0.95],[0.228,0.84],[0.235,0.86],[0.25,0.84],[0.265,0.79],[0.28,0.7],[0.295,0.58],[0.307,0.47],[0.317,0.37],[0.327,0.25],[0.336,0.143],[0.345,0.09],[0.355,0.06],[0.37,0.03],[0.385,0.01],[0.4,0.015],[0.42,-0.006],[0.44,0.008],[0.46,-0.004],[0.48,0.01],[0.5,-0.008],[0.52,0.006],[0.54,-0.004],[0.56,0.008],[0.58,-0.006],[0.6,0.004]];
const H2b=[[0,1],[0.2,0.96],[0.225,0.95],[0.235,0.94],[0.25,0.92],[0.265,0.87],[0.28,0.78],[0.295,0.64],[0.307,0.5],[0.317,0.38],[0.327,0.25],[0.336,0.143],[0.345,0.09],[0.355,0.06],[0.37,0.03],[0.385,0.01],[0.42,0],[0.5,0.004],[0.6,0.002]];
const H2r=[[0,1],[0.2,0.96],[0.225,0.95],[0.227,0.7],[0.232,0.52],[0.24,0.42],[0.25,0.3],[0.26,0.2],[0.272,0.13],[0.285,0.08],[0.3,0.04],[0.32,0.01],[0.35,0],[0.38,0.006],[0.41,-0.006],[0.44,0.006],[0.47,-0.004],[0.5,0.006],[0.53,-0.004],[0.56,0.006],[0.6,0]];
const H2g=[[0,1],[0.08,0.99],[0.11,0.97],[0.13,0.93],[0.15,0.88],[0.17,0.85],[0.19,0.87],[0.205,0.88],[0.22,0.84],[0.235,0.76],[0.25,0.62],[0.265,0.45],[0.28,0.28],[0.295,0.14],[0.31,0.05],[0.33,0.01],[0.36,0],[0.42,0.003],[0.5,-0.002],[0.6,0.002]];

const H3k=[[0,1],[0.102,0.998],[0.137,0.978],[0.155,0.966],[0.19,0.955],[0.211,0.944],[0.22,0.937],[0.222,0.831],[0.229,0.843],[0.242,0.831],[0.259,0.787],[0.277,0.685],[0.29,0.573],[0.303,0.461],[0.312,0.393],[0.321,0.281],[0.329,0.169],[0.338,0.112],[0.347,0.09],[0.355,0.067],[0.364,0.034],[0.377,0.007],[0.39,0.015],[0.41,-0.004],[0.43,0.01],[0.45,-0.008],[0.47,0.012],[0.49,-0.01],[0.51,0.004],[0.53,0.018],[0.55,-0.006],[0.57,0.01],[0.59,-0.008],[0.6,0.022]];
const H3b=[[0,1],[0.19,0.955],[0.211,0.944],[0.22,0.937],[0.229,0.93],[0.242,0.91],[0.259,0.86],[0.277,0.76],[0.29,0.64],[0.303,0.5],[0.312,0.4],[0.321,0.285],[0.329,0.17],[0.338,0.115],[0.347,0.09],[0.355,0.07],[0.364,0.035],[0.38,0.005],[0.42,0.006],[0.46,-0.01],[0.5,0.004],[0.54,0.008],[0.58,-0.004],[0.6,0.01]];
const H3r=[[0,1],[0.19,0.955],[0.211,0.944],[0.219,0.94],[0.22,0.82],[0.224,0.64],[0.229,0.528],[0.235,0.461],[0.242,0.348],[0.251,0.258],[0.259,0.18],[0.268,0.135],[0.281,0.09],[0.294,0.045],[0.312,0.011],[0.33,-0.005],[0.36,0.004],[0.39,-0.006],[0.42,0.008],[0.45,-0.004],[0.48,0.006],[0.51,-0.008],[0.54,0.004],[0.57,0.006],[0.6,-0.006]];
const H3g=[[0,1],[0.085,0.994],[0.111,0.978],[0.128,0.944],[0.146,0.888],[0.163,0.843],[0.176,0.825],[0.19,0.843],[0.2,0.865],[0.211,0.831],[0.224,0.787],[0.238,0.685],[0.251,0.551],[0.264,0.393],[0.277,0.236],[0.29,0.124],[0.303,0.045],[0.321,0.011],[0.34,0],[0.38,0.004],[0.43,-0.003],[0.48,0.003],[0.53,-0.002],[0.58,0.003],[0.6,0.002]];

const I1k=[[0,1],[0.1,0.998],[0.2,0.99],[0.26,0.98],[0.283,0.97],[0.285,0.88],[0.295,0.9],[0.32,0.89],[0.345,0.85],[0.36,0.78],[0.372,0.66],[0.385,0.5],[0.395,0.38],[0.405,0.3],[0.415,0.22],[0.427,0.143],[0.44,0.07],[0.455,0.03],[0.47,0.01],[0.49,0.015],[0.51,-0.01],[0.53,0.008],[0.55,-0.006],[0.57,0.01],[0.59,-0.004],[0.6,0.002]];
const I1b=[[0,1],[0.2,0.99],[0.26,0.98],[0.283,0.97],[0.295,0.96],[0.32,0.93],[0.345,0.87],[0.36,0.79],[0.372,0.67],[0.385,0.5],[0.395,0.38],[0.405,0.3],[0.415,0.22],[0.427,0.143],[0.44,0.07],[0.455,0.03],[0.47,0.01],[0.52,0],[0.6,0.002]];
const I1r=[[0,1],[0.2,0.99],[0.26,0.98],[0.283,0.97],[0.285,0.6],[0.29,0.3],[0.297,0.15],[0.305,0.08],[0.32,0.05],[0.34,0.03],[0.36,0.01],[0.38,0],[0.41,0.006],[0.44,-0.006],[0.47,0.006],[0.5,-0.004],[0.53,0.006],[0.56,-0.004],[0.6,0.004]];
const I1g=[[0,1],[0.08,0.995],[0.12,0.975],[0.16,0.93],[0.2,0.86],[0.23,0.78],[0.26,0.67],[0.28,0.57],[0.3,0.44],[0.315,0.32],[0.33,0.2],[0.345,0.1],[0.36,0.04],[0.38,0.01],[0.4,0],[0.5,0.003],[0.6,0]];

const I2k=[[0,1],[0.1,0.995],[0.17,0.975],[0.18,0.97],[0.182,0.86],[0.19,0.93],[0.22,0.945],[0.26,0.93],[0.3,0.88],[0.33,0.8],[0.35,0.68],[0.365,0.5],[0.375,0.38],[0.39,0.27],[0.413,0.143],[0.43,0.08],[0.445,0.04],[0.46,0.015],[0.48,0.01],[0.5,-0.008],[0.52,0.008],[0.54,-0.006],[0.56,0.006],[0.58,-0.008],[0.6,0.004]];
const I2b=[[0,1],[0.17,0.975],[0.18,0.97],[0.19,0.965],[0.22,0.955],[0.26,0.935],[0.3,0.89],[0.33,0.81],[0.35,0.69],[0.365,0.5],[0.375,0.38],[0.39,0.27],[0.413,0.143],[0.43,0.08],[0.445,0.04],[0.46,0.015],[0.5,0],[0.6,0.002]];
const I2r=[[0,1],[0.17,0.975],[0.18,0.97],[0.182,0.6],[0.186,0.35],[0.192,0.2],[0.2,0.12],[0.215,0.07],[0.235,0.04],[0.26,0.02],[0.29,0.005],[0.32,0],[0.36,0.006],[0.4,-0.004],[0.44,0.006],[0.48,-0.006],[0.52,0.004],[0.56,-0.004],[0.6,0.004]];
const I2g=[[0,1],[0.08,0.99],[0.12,0.96],[0.15,0.9],[0.18,0.8],[0.2,0.72],[0.22,0.62],[0.24,0.5],[0.26,0.38],[0.28,0.25],[0.3,0.13],[0.32,0.05],[0.34,0.015],[0.36,0],[0.45,0.003],[0.6,0]];

const J1k=[[0,1],[0.1,0.995],[0.14,0.97],[0.158,0.955],[0.16,0.83],[0.17,0.88],[0.19,0.9],[0.215,0.89],[0.235,0.85],[0.25,0.76],[0.262,0.64],[0.275,0.55],[0.29,0.45],[0.3,0.35],[0.31,0.25],[0.322,0.143],[0.335,0.07],[0.35,0.04],[0.365,0.03],[0.38,0.01],[0.4,0.015],[0.42,-0.006],[0.44,0.008],[0.46,-0.006],[0.48,0.01],[0.5,-0.004],[0.52,0.006],[0.54,-0.008],[0.56,0.006],[0.58,-0.004],[0.6,0.004]];
const J1b=[[0,1],[0.14,0.97],[0.158,0.955],[0.17,0.945],[0.19,0.935],[0.215,0.91],[0.235,0.86],[0.25,0.77],[0.262,0.65],[0.275,0.55],[0.29,0.45],[0.3,0.35],[0.31,0.25],[0.322,0.143],[0.335,0.07],[0.35,0.04],[0.365,0.03],[0.38,0.01],[0.42,0],[0.5,0.004],[0.6,0.002]];
const J1r=[[0,1],[0.14,0.97],[0.158,0.955],[0.16,0.6],[0.165,0.35],[0.172,0.2],[0.18,0.1],[0.195,0.06],[0.215,0.04],[0.235,0.03],[0.255,0.01],[0.28,0],[0.31,0.006],[0.34,-0.006],[0.37,0.006],[0.4,-0.004],[0.43,0.006],[0.46,-0.006],[0.5,0.004],[0.54,-0.004],[0.58,0.006],[0.6,0]];
const J1g=[[0,1],[0.06,0.99],[0.1,0.96],[0.13,0.88],[0.15,0.8],[0.165,0.76],[0.18,0.74],[0.195,0.77],[0.21,0.74],[0.225,0.63],[0.24,0.47],[0.255,0.32],[0.27,0.2],[0.285,0.1],[0.3,0.04],[0.32,0.008],[0.35,0],[0.45,0.003],[0.6,0]];

const J2k=[[0,1],[0.1,0.995],[0.14,0.97],[0.165,0.95],[0.167,0.8],[0.175,0.86],[0.19,0.88],[0.21,0.86],[0.225,0.8],[0.24,0.68],[0.255,0.55],[0.268,0.44],[0.28,0.33],[0.29,0.23],[0.299,0.143],[0.31,0.08],[0.325,0.04],[0.34,0.02],[0.36,0.01],[0.38,0.012],[0.4,-0.006],[0.42,0.008],[0.44,-0.004],[0.46,0.008],[0.48,-0.006],[0.5,0.004],[0.53,-0.004],[0.56,0.006],[0.6,0]];
const J2b=[[0,1],[0.14,0.97],[0.165,0.95],[0.175,0.935],[0.19,0.915],[0.21,0.88],[0.225,0.81],[0.24,0.69],[0.255,0.56],[0.268,0.44],[0.28,0.33],[0.29,0.23],[0.299,0.143],[0.31,0.08],[0.325,0.04],[0.34,0.02],[0.36,0.01],[0.4,0],[0.5,0.004],[0.6,0]];
const J2r=[[0,1],[0.14,0.97],[0.165,0.95],[0.167,0.6],[0.172,0.4],[0.18,0.25],[0.19,0.13],[0.2,0.08],[0.22,0.05],[0.24,0.03],[0.26,0.01],[0.29,0],[0.32,0.006],[0.36,-0.006],[0.4,0.006],[0.44,-0.004],[0.48,0.006],[0.52,-0.006],[0.56,0.004],[0.6,0]];
const J2g=[[0,1],[0.06,0.99],[0.1,0.96],[0.13,0.9],[0.15,0.84],[0.165,0.75],[0.18,0.68],[0.195,0.62],[0.21,0.52],[0.225,0.38],[0.24,0.24],[0.255,0.12],[0.27,0.05],[0.29,0.01],[0.32,0],[0.45,0.003],[0.6,0]];

const K1k=[[0,1],[0.1,0.998],[0.2,0.99],[0.27,0.975],[0.293,0.96],[0.295,0.87],[0.305,0.9],[0.33,0.88],[0.35,0.83],[0.365,0.75],[0.378,0.62],[0.39,0.46],[0.4,0.36],[0.41,0.28],[0.42,0.21],[0.431,0.143],[0.445,0.08],[0.46,0.05],[0.475,0.02],[0.49,0.01],[0.51,-0.008],[0.53,0.008],[0.55,-0.006],[0.57,0.008],[0.59,-0.006],[0.6,0.002]];
const K1b=[[0,1],[0.2,0.99],[0.27,0.975],[0.293,0.96],[0.305,0.95],[0.33,0.92],[0.35,0.86],[0.365,0.77],[0.378,0.63],[0.39,0.47],[0.4,0.36],[0.41,0.28],[0.42,0.21],[0.431,0.143],[0.445,0.08],[0.46,0.05],[0.475,0.02],[0.5,0],[0.6,0.002]];
const K1r=[[0,1],[0.2,0.99],[0.27,0.975],[0.293,0.96],[0.295,0.6],[0.3,0.4],[0.308,0.28],[0.318,0.18],[0.33,0.1],[0.345,0.06],[0.365,0.03],[0.385,0.01],[0.41,0],[0.44,0.006],[0.47,-0.006],[0.5,0.006],[0.53,-0.004],[0.56,0.006],[0.6,0]];
const K1g=[[0,1],[0.1,0.99],[0.14,0.97],[0.17,0.95],[0.2,0.955],[0.23,0.93],[0.26,0.86],[0.29,0.76],[0.31,0.66],[0.33,0.5],[0.345,0.36],[0.36,0.22],[0.375,0.11],[0.39,0.04],[0.41,0.01],[0.43,0],[0.5,0.003],[0.6,0]];

const K2k=[[0,1],[0.1,0.997],[0.2,0.985],[0.25,0.965],[0.273,0.95],[0.275,0.86],[0.285,0.89],[0.31,0.87],[0.33,0.82],[0.35,0.73],[0.365,0.6],[0.377,0.45],[0.388,0.33],[0.4,0.23],[0.413,0.143],[0.425,0.09],[0.44,0.05],[0.455,0.02],[0.47,0.01],[0.49,0.012],[0.51,-0.008],[0.53,0.008],[0.55,-0.006],[0.57,0.01],[0.59,-0.004],[0.6,0.002]];
const K2b=[[0,1],[0.2,0.985],[0.25,0.965],[0.273,0.95],[0.285,0.94],[0.31,0.91],[0.33,0.85],[0.35,0.75],[0.365,0.61],[0.377,0.45],[0.388,0.33],[0.4,0.23],[0.413,0.143],[0.425,0.09],[0.44,0.05],[0.455,0.02],[0.5,0],[0.6,0.002]];
const K2r=[[0,1],[0.2,0.985],[0.25,0.965],[0.273,0.95],[0.275,0.5],[0.28,0.3],[0.288,0.2],[0.3,0.12],[0.315,0.07],[0.335,0.04],[0.355,0.015],[0.38,0],[0.41,0.006],[0.44,-0.006],[0.47,0.006],[0.5,-0.004],[0.53,0.006],[0.56,-0.004],[0.6,0.002]];
const K2g=[[0,1],[0.08,0.99],[0.12,0.96],[0.15,0.92],[0.17,0.91],[0.2,0.93],[0.22,0.9],[0.25,0.83],[0.27,0.75],[0.29,0.62],[0.305,0.5],[0.32,0.35],[0.335,0.2],[0.35,0.09],[0.365,0.03],[0.385,0.005],[0.41,0],[0.5,0.003],[0.6,0]];

const L1k=[[0,1],[0.1,0.998],[0.2,0.99],[0.218,0.975],[0.221,0.87],[0.23,0.9],[0.255,0.88],[0.275,0.83],[0.29,0.76],[0.3,0.66],[0.31,0.55],[0.32,0.45],[0.33,0.36],[0.345,0.25],[0.362,0.143],[0.375,0.08],[0.39,0.04],[0.4,0.02],[0.41,0.03],[0.43,0.005],[0.45,0.015],[0.47,-0.004],[0.49,0.012],[0.51,-0.006],[0.53,0.01],[0.55,-0.004],[0.57,0.008],[0.59,-0.006],[0.605,0.004]];
const L1b=[[0,1],[0.2,0.99],[0.218,0.975],[0.235,0.965],[0.255,0.93],[0.275,0.86],[0.29,0.78],[0.3,0.67],[0.31,0.56],[0.32,0.45],[0.33,0.36],[0.345,0.25],[0.362,0.143],[0.375,0.08],[0.39,0.04],[0.4,0.02],[0.43,0.005],[0.5,0.004],[0.605,0.002]];
const L1r=[[0,1],[0.2,0.99],[0.218,0.975],[0.22,0.6],[0.225,0.45],[0.233,0.36],[0.243,0.26],[0.255,0.16],[0.27,0.1],[0.285,0.06],[0.305,0.03],[0.325,0.01],[0.355,0],[0.39,0.006],[0.42,-0.006],[0.45,0.006],[0.48,-0.004],[0.51,0.006],[0.54,-0.004],[0.57,0.006],[0.605,0.002]];
const L1g=[[0,1],[0.08,0.99],[0.11,0.95],[0.13,0.9],[0.15,0.86],[0.17,0.84],[0.19,0.87],[0.205,0.88],[0.22,0.83],[0.235,0.72],[0.25,0.57],[0.265,0.42],[0.28,0.27],[0.295,0.14],[0.31,0.06],[0.33,0.015],[0.35,0],[0.45,0.003],[0.605,0]];

const L2k=[[0,1],[0.1,0.998],[0.2,0.985],[0.235,0.97],[0.238,0.86],[0.245,0.9],[0.26,0.88],[0.28,0.82],[0.295,0.72],[0.305,0.6],[0.315,0.49],[0.325,0.39],[0.335,0.29],[0.345,0.22],[0.356,0.143],[0.368,0.09],[0.38,0.05],[0.395,0.025],[0.41,0.01],[0.43,0.015],[0.45,-0.006],[0.47,0.01],[0.49,-0.004],[0.51,0.008],[0.53,-0.006],[0.55,0.006],[0.57,-0.004],[0.59,0.008],[0.605,0.002]];
const L2b=[[0,1],[0.2,0.985],[0.235,0.97],[0.245,0.96],[0.26,0.93],[0.28,0.86],[0.295,0.75],[0.305,0.62],[0.315,0.5],[0.325,0.39],[0.335,0.29],[0.345,0.22],[0.356,0.143],[0.368,0.09],[0.38,0.05],[0.395,0.025],[0.41,0.01],[0.5,0],[0.605,0.002]];
const L2r=[[0,1],[0.2,0.985],[0.235,0.97],[0.237,0.55],[0.242,0.4],[0.25,0.3],[0.26,0.2],[0.272,0.12],[0.285,0.07],[0.3,0.04],[0.32,0.01],[0.35,0],[0.38,0.006],[0.41,-0.006],[0.44,0.006],[0.47,-0.004],[0.5,0.006],[0.53,-0.004],[0.56,0.006],[0.605,0.002]];
const L2g=[[0,1],[0.08,0.99],[0.11,0.96],[0.13,0.92],[0.15,0.87],[0.17,0.85],[0.19,0.87],[0.205,0.88],[0.22,0.84],[0.235,0.75],[0.25,0.62],[0.265,0.47],[0.28,0.32],[0.295,0.18],[0.31,0.08],[0.33,0.02],[0.35,0],[0.45,0.003],[0.605,0]];

const M1k=[[0,1],[0.1,0.997],[0.2,0.985],[0.24,0.97],[0.252,0.96],[0.254,0.87],[0.265,0.9],[0.3,0.88],[0.325,0.83],[0.345,0.75],[0.36,0.64],[0.372,0.5],[0.385,0.37],[0.395,0.28],[0.405,0.22],[0.42,0.143],[0.432,0.08],[0.445,0.04],[0.46,0.02],[0.48,0.01],[0.5,0.012],[0.52,-0.006],[0.54,0.008],[0.56,-0.004],[0.58,0.006],[0.6,0]];
const M1b=[[0,1],[0.2,0.985],[0.24,0.97],[0.252,0.96],[0.265,0.955],[0.3,0.92],[0.325,0.86],[0.345,0.77],[0.36,0.65],[0.372,0.5],[0.385,0.37],[0.395,0.28],[0.405,0.22],[0.42,0.143],[0.432,0.08],[0.445,0.04],[0.46,0.02],[0.5,0.005],[0.6,0.002]];
const M1r=[[0,1],[0.2,0.985],[0.24,0.97],[0.252,0.96],[0.254,0.5],[0.259,0.3],[0.266,0.18],[0.275,0.1],[0.29,0.06],[0.305,0.03],[0.325,0.01],[0.36,0],[0.39,0.006],[0.42,-0.006],[0.45,0.006],[0.48,-0.004],[0.51,0.006],[0.54,-0.004],[0.57,0.006],[0.6,0]];
const M1g=[[0,1],[0.08,0.99],[0.11,0.96],[0.14,0.9],[0.16,0.87],[0.18,0.86],[0.2,0.88],[0.22,0.85],[0.24,0.78],[0.26,0.67],[0.28,0.55],[0.3,0.4],[0.32,0.24],[0.34,0.11],[0.36,0.04],[0.38,0.01],[0.4,0],[0.5,0.003],[0.6,0]];

const M2k=[[0,1],[0.1,0.997],[0.2,0.985],[0.27,0.97],[0.298,0.955],[0.3,0.86],[0.31,0.89],[0.33,0.87],[0.345,0.83],[0.358,0.74],[0.368,0.6],[0.375,0.45],[0.383,0.33],[0.39,0.25],[0.4,0.143],[0.412,0.08],[0.425,0.04],[0.44,0.02],[0.455,0.01],[0.47,0.012],[0.49,-0.008],[0.51,0.008],[0.53,-0.006],[0.55,0.006],[0.57,-0.004],[0.59,0.006],[0.605,0]];
const M2b=[[0,1],[0.2,0.985],[0.27,0.97],[0.298,0.955],[0.31,0.94],[0.33,0.9],[0.345,0.85],[0.358,0.76],[0.368,0.61],[0.375,0.45],[0.383,0.33],[0.39,0.25],[0.4,0.143],[0.412,0.08],[0.425,0.04],[0.44,0.02],[0.47,0.005],[0.55,0],[0.605,0.002]];
const M2r=[[0,1],[0.2,0.985],[0.27,0.97],[0.298,0.955],[0.3,0.5],[0.305,0.3],[0.312,0.2],[0.322,0.12],[0.335,0.07],[0.35,0.04],[0.37,0.015],[0.39,0],[0.42,0.006],[0.45,-0.006],[0.48,0.006],[0.51,-0.004],[0.54,0.006],[0.57,-0.004],[0.605,0.002]];
const M2g=[[0,1],[0.08,0.99],[0.12,0.97],[0.15,0.94],[0.17,0.93],[0.2,0.945],[0.23,0.92],[0.26,0.85],[0.28,0.76],[0.3,0.62],[0.315,0.48],[0.33,0.32],[0.345,0.18],[0.36,0.08],[0.375,0.03],[0.395,0.005],[0.42,0],[0.5,0.003],[0.605,0]];

const N1k=[[0,1],[0.1,0.995],[0.14,0.975],[0.155,0.96],[0.157,0.86],[0.168,0.92],[0.19,0.935],[0.215,0.925],[0.235,0.89],[0.25,0.8],[0.262,0.68],[0.275,0.56],[0.288,0.45],[0.298,0.35],[0.308,0.25],[0.318,0.143],[0.33,0.08],[0.345,0.05],[0.36,0.04],[0.375,0.02],[0.39,0.025],[0.41,-0.004],[0.43,0.01],[0.45,-0.004],[0.47,0.012],[0.49,-0.006],[0.51,0.008],[0.53,-0.004],[0.55,0.006],[0.57,-0.006],[0.59,0.006],[0.605,0]];
const N1b=[[0,1],[0.14,0.975],[0.155,0.96],[0.168,0.955],[0.19,0.945],[0.215,0.93],[0.235,0.89],[0.25,0.8],[0.262,0.68],[0.275,0.56],[0.288,0.45],[0.298,0.35],[0.308,0.25],[0.318,0.143],[0.33,0.08],[0.345,0.05],[0.36,0.04],[0.375,0.02],[0.41,0],[0.5,0.004],[0.605,0]];
const N1r=[[0,1],[0.14,0.975],[0.155,0.96],[0.157,0.6],[0.162,0.35],[0.168,0.2],[0.175,0.1],[0.19,0.06],[0.21,0.04],[0.23,0.03],[0.25,0.01],[0.28,0],[0.31,0.006],[0.34,-0.006],[0.37,0.006],[0.4,-0.004],[0.43,0.006],[0.46,-0.006],[0.5,0.004],[0.54,-0.004],[0.58,0.006],[0.605,0]];
const N1g=[[0,1],[0.06,0.99],[0.1,0.96],[0.13,0.9],[0.15,0.85],[0.165,0.81],[0.18,0.79],[0.195,0.81],[0.21,0.79],[0.225,0.69],[0.24,0.53],[0.255,0.37],[0.27,0.22],[0.285,0.11],[0.3,0.04],[0.32,0.008],[0.35,0],[0.45,0.003],[0.605,0]];

const N2k=[[0,1],[0.1,0.995],[0.14,0.97],[0.155,0.95],[0.157,0.8],[0.167,0.87],[0.185,0.9],[0.205,0.89],[0.225,0.85],[0.24,0.77],[0.255,0.65],[0.268,0.54],[0.28,0.43],[0.292,0.33],[0.303,0.24],[0.315,0.143],[0.327,0.08],[0.34,0.04],[0.355,0.02],[0.37,0.01],[0.39,0.015],[0.41,-0.006],[0.43,0.008],[0.45,-0.004],[0.47,0.01],[0.49,-0.006],[0.51,0.006],[0.53,-0.004],[0.55,0.008],[0.57,-0.006],[0.59,0.006],[0.605,0]];
const N2b=[[0,1],[0.14,0.97],[0.155,0.95],[0.167,0.94],[0.185,0.93],[0.205,0.91],[0.225,0.86],[0.24,0.78],[0.255,0.66],[0.268,0.54],[0.28,0.43],[0.292,0.33],[0.303,0.24],[0.315,0.143],[0.327,0.08],[0.34,0.04],[0.355,0.02],[0.4,0],[0.5,0.004],[0.605,0]];
const N2r=[[0,1],[0.14,0.97],[0.155,0.95],[0.157,0.6],[0.162,0.4],[0.168,0.25],[0.175,0.14],[0.185,0.08],[0.2,0.05],[0.22,0.03],[0.245,0.01],[0.28,0],[0.31,0.006],[0.34,-0.006],[0.37,0.006],[0.4,-0.004],[0.44,0.006],[0.48,-0.006],[0.52,0.004],[0.56,-0.004],[0.605,0.002]];
const N2g=[[0,1],[0.06,0.99],[0.1,0.96],[0.13,0.9],[0.15,0.83],[0.165,0.76],[0.18,0.73],[0.195,0.76],[0.21,0.73],[0.225,0.62],[0.24,0.46],[0.255,0.31],[0.27,0.18],[0.285,0.08],[0.3,0.03],[0.32,0.005],[0.35,0],[0.45,0.003],[0.605,0]];

const curves = {A1:[A1k,A1g,A1b,A1r],A2:[A2k,A2g,A2b,A2r],B1:[B1k,B1g,B1b,B1r],B2:[B2k,B2g,B2b,B2r],
C1:[C1k,C1g,C1b,C1r],C2:[C2k,C2g,C2b,C2r],D1:[D1k,D1g,D1b,D1r],D2:[D2k,D2g,D2b,D2r],
E1:[E1k,E1g,E1b,E1r],E2:[E2k,E2g,E2b,E2r],F1:[F1k,F1g,F1b,F1r],
G1:[G1k,G1g,G1b,G1r],G2:[G2k,G2g,G2b,G2r],H1:[H1k,H1g,H1b,H1r],H2:[H2k,H2g,H2b,H2r],H3:[H3k,H3g,H3b,H3r],
I1:[I1k,I1g,I1b,I1r],I2:[I2k,I2g,I2b,I2r],J1:[J1k,J1g,J1b,J1r],J2:[J2k,J2g,J2b,J2r],
K1:[K1k,K1g,K1b,K1r],K2:[K2k,K2g,K2b,K2r],L1:[L1k,L1g,L1b,L1r],L2:[L2k,L2g,L2b,L2r],
M1:[M1k,M1g,M1b,M1r],M2:[M2k,M2g,M2b,M2r],N1:[N1k,N1g,N1b,N1r],N2:[N2k,N2g,N2b,N2r]};

// ---------------- LAYOUT (pixels) ----------------
// [x of y-axis, y of FSC=1.0, title centre x, title centre y]
const layout = {A1:[112,129,236,98],A2:[442,131,566,98],B1:[778,132,900,101],B2:[1091,132,1214,101],
C1:[112,420,236,389],C2:[447,421,565,389],D1:[778,418,901,388],D2:[1091,418,1218,386],
E1:[109,708,234,678],E2:[444,709,568,678],F1:[777,711,900,680],
G1:[100,998,228,967],G2:[441,1001,560,967],H1:[777,998,911,969],H2:[1095,998,1234,969],H3:[1411,1000,1542,969],
I1:[98,1297,226,1270],I2:[430,1297,556,1270],J1:[774,1297,904,1270],J2:[1099,1297,1227,1270],
K1:[92,1584,213,1551],K2:[427,1584,547,1550],L1:[769,1574,896,1541],L2:[1096,1574,1226,1541],
M1:[95,1870,218,1835],M2:[425,1870,549,1835],N1:[769,1869,890,1835],N2:[1096,1869,1220,1835]};
const letterPos = [[16,96],[745,88],[16,380],[745,380],[16,669],[745,677],[16,961],[745,961],[16,1266],[745,1266],[16,1545],[745,1545],[16,1830],[745,1819]];
const PX_X = 384, PX_Y = 150, XMIN = 0, XMAX = 0.64, YMIN = -0.1, YMAX = 1.0;
const COLORS = ['#111111','#5dbb46','#2f4fa5','#e8231e'];
const WIDTHS = [2.1,1.6,1.6,1.6];
const ZS = [5,2,4,3];
const FONT = '"Liberation Sans", Arial, Helvetica, sans-serif';

const grids=[], xAxes=[], yAxes=[], series=[], graphics=[];
const near = (v, step) => Math.abs(v/step - Math.round(v/step)) < 1e-6;

panelIds.forEach((id, i) => {
  const [ax, y1, tx, ty] = layout[id];
  grids.push({left: ax, top: y1 - (YMAX-1)*PX_Y, width: (XMAX-XMIN)*PX_X, height: (YMAX-YMIN)*PX_Y});
  xAxes.push({gridIndex:i, type:'value', min:XMIN, max:XMAX, interval:0.02,
    axisLine:{lineStyle:{color:'#000', width:1.3}}, axisTick:{length:4, lineStyle:{color:'#000', width:1}},
    splitLine:{show:false},
    axisLabel:{color:'#000', fontSize:17, fontFamily:FONT, margin:12,
      formatter: v => (near(v,0.2) && v <= 0.6001) ? v.toFixed(1) : ''},
    name:'Resolution (1/Å)', nameLocation:'middle', nameGap:33,
    nameTextStyle:{color:'#000', fontSize:16, fontFamily:FONT}});
  yAxes.push({gridIndex:i, type:'value', min:YMIN, max:YMAX, interval:0.05,
    axisLine:{show:true, lineStyle:{color:'#000', width:1.3}}, axisTick:{show:true, length:4, lineStyle:{color:'#000', width:1}},
    splitLine:{show:false},
    axisLabel:{color:'#000', fontSize:17, fontFamily:FONT, margin:9,
      formatter: v => (near(v,0.5) && v > -0.01) ? Math.abs(v).toFixed(1) : ''},
    name:'FSC', nameLocation:'middle', nameGap:38,
    nameTextStyle:{color:'#000', fontSize:16, fontFamily:FONT}});
  const tmd = /TMD/.test(titles[id]);
  const res = parseFloat(resolutions[id]);
  const xr = 1/res;
  const order = [1,3,2,0]; // green, red, blue, black
  order.forEach(j => {
    const s = {name: seriesNames[j], type:'line', xAxisIndex:i, yAxisIndex:i, data: curves[id][j],
      showSymbol:false, symbol:'none', silent:true, animation:false, z:ZS[j],
      lineStyle:{color:COLORS[j], width:WIDTHS[j]}, itemStyle:{color:COLORS[j]}};
    if (j === 1) {
      s.markLine = {silent:true, symbol:['none','none'], label:{show:false}, animation:false,
        lineStyle:{type:'dotted', color:'#000', width:1.6}, data:[{yAxis:FSC_THRESHOLD}]};
    }
    if (j === 0) {
      s.markLine = {silent:true, symbol:['none','arrow'], symbolSize:[12,15], label:{show:false}, animation:false,
        lineStyle:{type:'solid', color:'#000', width:1.6},
        data:[[{coord:[xr+0.047, FSC_THRESHOLD+0.133]},{coord:[xr+0.01, FSC_THRESHOLD+0.028]}]]};
      s.markPoint = {silent:true, animation:false, symbol:'circle', symbolSize:1, itemStyle:{color:'rgba(0,0,0,0)'},
        data:[{coord:[xr, FSC_THRESHOLD], label:{show:true, position:'inside', offset: tmd ? [31,-33] : [39,-28],
          formatter: resolutions[id] + 'Å', color:'#111', fontSize:21, fontFamily:FONT}}]};
    }
    series.push(s);
  });
  graphics.push({type:'text', x:tx, y:ty, style:{text:titles[id], fill:'#000', font:'bold 15px ' + FONT, align:'center', verticalAlign:'middle'}});
});

panelLetters.forEach((L, i) => {
  graphics.push({type:'text', x:letterPos[i][0], y:letterPos[i][1], style:{text:L, fill:'#000', font:'bold 42px ' + FONT, align:'left', verticalAlign:'middle'}});
});
graphics.push({type:'text', x:378, y:30, style:{text:sectionHeaders[0], fill:'#000', font:'41px ' + FONT, align:'center', verticalAlign:'middle'}});
graphics.push({type:'text', x:1182, y:30, style:{text:sectionHeaders[1], fill:'#000', font:'41px ' + FONT, align:'center', verticalAlign:'middle'}});
graphics.push({type:'line', shape:{x1:19, y1:60, x2:716, y2:60}, style:{stroke:'#000', lineWidth:4}});
graphics.push({type:'line', shape:{x1:747, y1:60, x2:1642, y2:60}, style:{stroke:'#000', lineWidth:4}});
graphics.push({type:'text', x:1430, y:2015, style:{text:'Masked Maps', fill:'#111', font:'19px ' + FONT, align:'left', verticalAlign:'middle'}});

const chart = echarts.init(document.getElementById('c'), null, {renderer:'canvas'});
chart.setOption({
  animation:false,
  backgroundColor:'#fff',
  grid: grids, xAxis: xAxes, yAxis: yAxes, series: series, graphic: graphics,
  legend: {orient:'vertical', left:1388, top:1881, itemWidth:27, itemHeight:2.5, icon:'rect', itemGap:14,
    selectedMode:false, data: seriesNames,
    textStyle:{fontSize:19, color:'#111', fontFamily:FONT, padding:[0,0,0,6]}}
});
</script></body></html>
